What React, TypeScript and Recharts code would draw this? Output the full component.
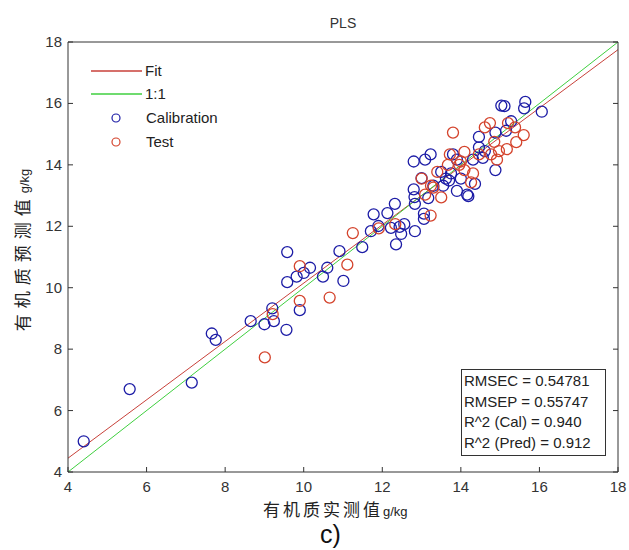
import { ReferenceLine, Scatter, ScatterChart, XAxis, YAxis } from 'recharts'

// calibration set (measured, predicted), g/kg
const calX = [
  4.4, 5.57, 7.15, 7.66, 7.76, 8.65, 9.0, 9.2, 9.24, 9.56, 9.58, 9.58, 9.82, 9.9, 10.0, 10.16,
  10.49, 10.6, 10.91, 11.01, 11.49, 11.71, 11.78, 11.9, 12.13, 12.22, 12.32, 12.35, 12.48, 12.56,
  12.44, 12.83, 12.8, 12.83, 12.82, 12.8, 13.06, 13.06, 13.09, 13.23, 13.0, 13.17, 13.3, 13.5,
  13.55, 13.62, 13.7, 13.75, 13.8, 13.9, 14.0, 13.9, 14.19, 14.16, 14.31, 14.36, 14.46, 14.46,
  14.61, 14.56, 14.88, 14.88, 15.03, 15.11, 15.15, 15.28, 15.61, 15.64, 16.06,
]
const calY = [
  5.0, 6.7, 6.91, 8.51, 8.3, 8.91, 8.81, 9.33, 8.91, 8.63, 11.16, 10.18, 10.36, 9.27, 10.48, 10.65,
  10.36, 10.65, 11.19, 10.22, 11.32, 11.84, 12.39, 12.01, 12.43, 11.95, 12.73, 11.41, 11.75, 12.07,
  11.98, 11.84, 13.2, 12.73, 12.95, 14.11, 12.24, 12.41, 14.17, 14.34, 13.57, 12.92, 13.32, 13.77,
  13.32, 13.55, 13.49, 13.72, 14.34, 13.15, 13.55, 14.17, 12.98, 13.03, 14.17, 13.38, 14.91, 14.57,
  14.45, 14.23, 13.83, 15.05, 15.93, 15.91, 15.11, 15.42, 15.84, 16.05, 15.73,
]

// test set
const testX = [
  9.01, 9.21, 9.9, 9.9, 10.66, 11.11, 11.25, 11.91, 12.33, 13.09, 13.0, 13.23, 13.24, 13.3, 13.5,
  13.4, 13.67, 13.72, 13.8, 13.96, 14.0, 14.09, 14.09, 14.26, 14.31, 14.46, 14.61, 14.74, 14.77,
  14.85, 14.92, 14.97, 15.17, 15.2, 15.38, 15.41, 15.6,
]
const testY = [
  7.73, 9.14, 9.57, 10.7, 9.68, 10.75, 11.78, 11.93, 12.07, 13.03, 13.55, 12.35, 13.32, 13.26, 12.94,
  13.77, 14.0, 14.34, 15.05, 14.0, 14.11, 13.83, 14.42, 13.43, 13.72, 14.34, 15.22, 15.36, 14.34,
  14.75, 14.17, 14.45, 14.51, 15.36, 15.22, 14.74, 14.97,
]

const axisTicks = [4, 6, 8, 10, 12, 14, 16, 18]
const fitEnds = [4.45, 17.75] // fit line values at x = 4 and x = 18
const oneToOne = [4, 18]
const stats = ['RMSEC = 0.54781', 'RMSEP = 0.55747', 'R^2 (Cal) = 0.940', 'R^2 (Pred) = 0.912']

const calData = calX.map((x, i) => ({ x, y: calY[i] }))
const testData = testX.map((x, i) => ({ x, y: testY[i] }))

const AXIS = '#333'
const BLUE = '#1c1ca6'
const RED = '#d4432c'
const FIT = '#c8413a'
const GREEN = '#3fcf3f'
const FONT = '"Liberation Sans", Arial, sans-serif'

const BottomTick = (props: any) => {
  const { x, y, payload } = props
  return (
    <g>
      <line x1={x} y1={y} x2={x} y2={y - 5} stroke={AXIS} />
      <text x={x} y={y + 20} textAnchor="middle" fontSize={15} fill="#333" fontFamily={FONT}>
        {payload.value}
      </text>
    </g>
  )
}

const LeftTick = (props: any) => {
  const { x, y, payload } = props
  return (
    <g>
      <line x1={x} y1={y} x2={x + 5} y2={y} stroke={AXIS} />
      <text x={x - 6} y={y + 5} textAnchor="end" fontSize={15} fill="#333" fontFamily={FONT}>
        {payload.value}
      </text>
    </g>
  )
}

const TopTick = (props: any) => (
  <line x1={props.x} y1={props.y} x2={props.x} y2={props.y + 5} stroke={AXIS} />
)

const RightTick = (props: any) => (
  <line x1={props.x} y1={props.y} x2={props.x - 5} y2={props.y} stroke={AXIS} />
)

const ring = (color: string) => (props: any) => (
  <circle cx={props.cx} cy={props.cy} r={5.5} fill="none" stroke={color} strokeWidth={1.3} />
)

export default function App() {
  return (
    <div style={{ position: 'absolute', left: 0, top: 0, width: 629, height: 550, background: '#fff', overflow: 'hidden' }}>
      <ScatterChart width={629} height={550} margin={{ top: 41, right: 10, bottom: 48, left: 28 }}>
        <XAxis
          xAxisId="b"
          type="number"
          dataKey="x"
          domain={[4, 18]}
          ticks={axisTicks}
          interval={0}
          height={30}
          tickSize={0}
          tickMargin={0}
          tickLine={false}
          tick={<BottomTick />}
          stroke={AXIS}
          allowDataOverflow
        />
        <XAxis
          xAxisId="t"
          orientation="top"
          type="number"
          domain={[4, 18]}
          ticks={axisTicks}
          interval={0}
          height={1}
          tickSize={0}
          tickMargin={0}
          tickLine={false}
          tick={<TopTick />}
          stroke={AXIS}
          allowDataOverflow
        />
        <YAxis
          yAxisId="l"
          type="number"
          dataKey="y"
          domain={[4, 18]}
          ticks={axisTicks}
          interval={0}
          width={40}
          tickSize={0}
          tickMargin={0}
          tickLine={false}
          tick={<LeftTick />}
          stroke={AXIS}
          allowDataOverflow
        />
        <YAxis
          yAxisId="r"
          orientation="right"
          type="number"
          domain={[4, 18]}
          ticks={axisTicks}
          interval={0}
          width={1}
          tickSize={0}
          tickMargin={0}
          tickLine={false}
          tick={<RightTick />}
          stroke={AXIS}
          allowDataOverflow
        />
        <Scatter
          xAxisId="b"
          yAxisId="l"
          name="Calibration"
          data={calData}
          shape={ring(BLUE)}
          isAnimationActive={false}
        />
        <Scatter
          xAxisId="b"
          yAxisId="l"
          name="Test"
          data={testData}
          shape={ring(RED)}
          isAnimationActive={false}
        />
        <ReferenceLine
          xAxisId="b"
          yAxisId="l"
          segment={[
            { x: 4, y: fitEnds[0] },
            { x: 18, y: fitEnds[1] },
          ]}
          stroke={FIT}
          strokeWidth={1}
          ifOverflow="visible"
        />
        <ReferenceLine
          xAxisId="b"
          yAxisId="l"
          segment={[
            { x: oneToOne[0], y: oneToOne[0] },
            { x: oneToOne[1], y: oneToOne[1] },
          ]}
          stroke={GREEN}
          strokeWidth={1}
          ifOverflow="visible"
        />
      </ScatterChart>

      {/* legend, MATLAB style */}
      <svg width={140} height={100} style={{ position: 'absolute', left: 85, top: 58 }}>
        <line x1={6} y1={13} x2={57} y2={13} stroke={FIT} strokeWidth={1.5} />
        <text x={60} y={18} fontSize={15} fill="#222" fontFamily={FONT}>Fit</text>
        <line x1={6} y1={36} x2={57} y2={36} stroke={GREEN} strokeWidth={1.5} />
        <text x={60} y={41} fontSize={15} fill="#222" fontFamily={FONT}>1:1</text>
        <circle cx={31} cy={60} r={4} fill="none" stroke={BLUE} strokeWidth={1.2} />
        <text x={61} y={65} fontSize={15} fill="#222" fontFamily={FONT}>Calibration</text>
        <circle cx={31} cy={84} r={4} fill="none" stroke={RED} strokeWidth={1.2} />
        <text x={61} y={89} fontSize={15} fill="#222" fontFamily={FONT}>Test</text>
      </svg>

      <div
        style={{
          position: 'absolute',
          left: 461,
          top: 369,
          width: 141,
          height: 84,
          border: '1px solid #333',
          background: '#fff',
          fontFamily: FONT,
          fontSize: 15,
          color: '#222',
          lineHeight: '20.5px',
          paddingLeft: 2,
          paddingTop: 1,
          boxSizing: 'content-box',
        }}
      >
        {stats.map((s) => (
          <div key={s} style={{ whiteSpace: 'nowrap' }}>{s}</div>
        ))}
      </div>

      <div
        style={{
          position: 'absolute',
          left: 0,
          width: 686,
          top: 15,
          textAlign: 'center',
          fontFamily: FONT,
          fontSize: 14,
          color: '#333',
        }}
      >
        PLS
      </div>

      <div
        style={{
          position: 'absolute',
          left: 263,
          top: 498,
          whiteSpace: 'nowrap',
          fontFamily: '"Noto Sans CJK SC", sans-serif',
          fontSize: 17,
          letterSpacing: 3,
          color: '#222',
          lineHeight: '22px',
        }}
      >
        有机质实测值<span style={{ fontSize: 13, letterSpacing: 0, fontFamily: FONT }}>g/kg</span>
      </div>

      <div
        style={{
          position: 'absolute',
          left: 23,
          top: 250,
          transform: 'translate(-50%, -50%) rotate(-90deg)',
          whiteSpace: 'nowrap',
          fontFamily: '"Noto Sans CJK SC", sans-serif',
          fontSize: 17,
          letterSpacing: 6,
          color: '#222',
          lineHeight: '22px',
        }}
      >
        有机质预测值<span style={{ fontSize: 13, letterSpacing: 0, fontFamily: FONT }}>g/kg</span>
      </div>

      <div
        style={{
          position: 'absolute',
          left: 320,
          top: 521,
          fontFamily: FONT,
          fontSize: 25,
          lineHeight: '27px',
          color: '#111',
        }}
      >
        c)
      </div>
    </div>
  )
}
